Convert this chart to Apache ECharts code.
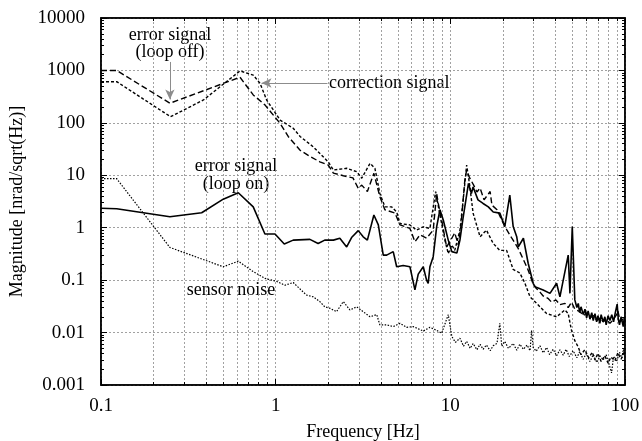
<!DOCTYPE html>
<html>
<head>
<meta charset="utf-8">
<script src="https://cdn.jsdelivr.net/npm/echarts@6/dist/echarts.min.js"></script>
<style>
  html, body { margin: 0; padding: 0; background: #fff; }
  #main { width: 642px; height: 441px; }
</style>
</head>
<body>
<div id="main"></div>
<script>
// tick labels
var xTickLabels = ['0.1', '1', '10', '100'];
var yTickLabels = ['0.001', '0.01', '0.1', '1', '10', '100', '1000', '10000'];

// error signal (loop off) : [Hz, nrad/sqrt(Hz)]
var loopOff = [
  [0.1,1000],[0.123,1000],[0.248,237],[0.625,742],[0.744,341],[0.868,220],[1.06,98],[1.18,55],
  [1.38,30],[1.57,23],[1.79,18],[2.0,15.7],[2.14,11],[2.44,9.8],[2.77,8.9],[2.97,5.65],[3.11,6.5],
  [3.35,4.9],[3.65,10.9],[3.95,3.9],[4.22,2.2],[4.82,1.9],[5.15,1.13],[5.87,0.97],[6.27,0.54],
  [6.7,0.73],[7.31,0.63],[7.98,0.9],[8.35,4.5],[8.53,2.9],[8.92,1.4],[9.52,0.43],[10.2,0.63],
  [10.6,0.8],[11.1,0.47],[11.5,1.1],[12.1,8],[12.4,12.6],[12.9,8.9],[13.6,6.5],[14.2,4.8],
  [14.8,5.7],[15.6,3.4],[16.9,4.9],[17.3,2.7],[18.5,2.2],[19.7,1.4],[21.1,0.9],[22.5,0.63],
  [24.4,0.41],[26.0,0.26],[27.8,0.16],[29.7,0.087],[31,0.07],[32.6,0.059],[34,0.05],[36.2,0.045],
  [38,0.038],[40.2,0.042],[42.4,0.034],[45.3,0.036],[47.3,0.03],[49.4,0.038],[51.6,0.028],
  [55.2,0.025],[58,0.021],[60.3,0.024],[63,0.019],[66,0.021],[69,0.017],[71.8,0.019],[75,0.016],
  [78,0.018],[82,0.015],[86,0.018],[89.5,0.022],[91,0.026],[94,0.016],[97,0.018],[100,0.015]
];

// correction signal
var correction = [
  [0.1,610],[0.123,610],[0.25,131],[0.386,273],[0.625,980],[0.744,815],[0.813,570],[0.888,273],
  [1.06,113],[1.26,79],[1.38,55],[1.64,35],[2.0,18],[2.14,12.6],[2.55,13.6],[2.91,11.7],[3.11,8.8],
  [3.47,16.9],[3.7,13.6],[3.95,4.5],[4.22,2.5],[4.61,2.5],[4.93,2.0],[5.15,1.2],[5.87,1.13],
  [6.41,0.9],[7.0,1.04],[7.64,0.97],[8.24,4.9],[8.72,1.75],[9.31,0.58],[9.73,0.32],[10.2,0.47],
  [10.6,0.37],[11.35,0.9],[11.85,3.4],[12.4,15.7],[12.9,6.5],[13.5,1.9],[14.8,0.67],[16.1,0.9],
  [17.6,0.5],[19.2,0.37],[21.0,0.37],[22.9,0.16],[25.0,0.137],[26.7,0.088],[28.6,0.048],
  [31.2,0.036],[35.6,0.023],[40.6,0.02],[45.3,0.027],[47.3,0.023],[49.4,0.011],[51.6,0.007],
  [54,0.0053],[56,0.0038],[58.9,0.0047],[62,0.0033],[65,0.0042],[67.3,0.003],[70,0.004],
  [73,0.0028],[76.7,0.0036],[80,0.0026],[83,0.0034],[87.5,0.0029],[91,0.0041],[95,0.0031],[100,0.0046]
];

// error signal (loop on)
var loopOn = [
  [0.1,2.35],[0.123,2.3],[0.248,1.62],[0.377,1.93],[0.501,3.5],[0.611,4.65],[0.744,2.5],[0.868,0.76],
  [0.991,0.76],[1.12,0.49],[1.26,0.58],[1.57,0.6],[1.75,0.5],[1.91,0.58],[2.14,0.58],[2.33,0.63],
  [2.55,0.43],[2.72,0.65],[2.97,0.88],[3.17,0.67],[3.35,0.58],[3.65,1.75],[3.87,1.13],[4.13,0.3],
  [4.32,0.3],[4.71,0.35],[4.93,0.18],[5.37,0.19],[5.87,0.18],[6.27,0.065],[6.55,0.13],[7.0,0.18],
  [7.31,0.1],[7.47,0.087],[7.64,0.18],[7.98,0.28],[8.35,1.04],[8.72,2.2],[9.11,1.4],[9.73,0.58],
  [10.2,0.35],[10.9,0.33],[11.35,0.58],[11.85,1.6],[12.7,7.0],[13.2,4.5],[13.5,6.0],[14.4,3.4],
  [15.4,2.9],[16.5,2.5],[17.6,2.0],[19.2,1.9],[20.5,1.05],[21.9,4.2],[22.9,1.05],[24.0,0.67],
  [24.5,0.43],[26.2,0.63],[27.9,0.21],[29.8,0.087],[30.5,0.075],[34.0,0.065],[37.2,0.056],
  [40.6,0.087],[42.4,0.048],[47.3,0.3],[48.4,0.056],[49.9,1.05],[51.6,0.042],[53,0.03],[54,0.036],
  [55,0.024],[56,0.031],[57.7,0.022],[59,0.028],[60.3,0.019],[61.5,0.026],[63,0.018],[64.5,0.024],
  [65.8,0.017],[67.3,0.023],[68.8,0.016],[70,0.021],[71.8,0.015],[73,0.022],[75,0.016],[76.7,0.02],
  [78,0.014],[80,0.021],[82,0.017],[84,0.022],[86,0.016],[88,0.024],[90.2,0.035],[91.5,0.018],
  [93,0.014],[95,0.02],[97.7,0.013],[99,0.019],[100,0.016]
];

// sensor noise
var sensorNoise = [
  [0.1,8.6],[0.123,8.6],[0.248,0.42],[0.501,0.18],[0.611,0.23],[0.744,0.145],[0.868,0.108],
  [1.01,0.095],[1.13,0.08],[1.26,0.09],[1.50,0.052],[1.64,0.048],[1.79,0.039],[1.91,0.031],
  [2.05,0.029],[2.23,0.025],[2.44,0.039],[2.66,0.027],[2.91,0.031],[3.17,0.025],[3.47,0.02],
  [3.79,0.022],[3.95,0.014],[4.32,0.014],[4.71,0.013],[5.15,0.015],[5.62,0.0126],[6.13,0.013],
  [7.0,0.0107],[7.64,0.0126],[8.35,0.011],[8.92,0.0097],[9.73,0.022],[10.2,0.0084],[10.7,0.0065],
  [11.35,0.0078],[11.9,0.0055],[12.4,0.0068],[13,0.005],[13.5,0.0062],[14.2,0.0047],[14.8,0.006],
  [15.4,0.0048],[16.1,0.0058],[16.9,0.0045],[17.6,0.0056],[18.5,0.0062],[19.2,0.015],[19.7,0.0055],
  [20.5,0.0068],[21.5,0.005],[22.9,0.0062],[24,0.0046],[25,0.006],[26.2,0.0048],[27.5,0.0058],
  [28.6,0.0045],[29.2,0.011],[29.8,0.0052],[31,0.0044],[32.6,0.0056],[34,0.0041],[35.6,0.0052],
  [37,0.0038],[38.8,0.0048],[40.6,0.0036],[42.4,0.0047],[44.3,0.0037],[46,0.0048],[48,0.0035],
  [50.5,0.0045],[53,0.0033],[55,0.0043],[57.7,0.0031],[60,0.004],[63,0.0028],[65.8,0.0038],
  [69,0.0027],[72,0.0036],[75,0.003],[78,0.0038],[81,0.0025],[83.8,0.0017],[86,0.0035],
  [89.5,0.0028],[93,0.0042],[96,0.0033],[98,0.0048],[100,0.0038]
];

var FONT = 'Liberation Serif';
var GRID_LINE = { color: '#8a8a8a', width: 0.8, type: [2, 2] };
var TEXT_FONT = '18px "Liberation Serif"';

var chart = echarts.init(document.getElementById('main'));

function logLabel(list, offset) {
  return function (v) {
    return list[Math.round(Math.log10(v)) + offset];
  };
}

function curve(name, data, width, dash) {
  return {
    name: name,
    type: 'line',
    data: data,
    symbol: 'none',
    silent: true,
    lineStyle: { color: '#000', width: width, type: dash }
  };
}

function note(text, x, y, align) {
  return {
    type: 'text',
    silent: true,
    style: {
      text: text, x: x, y: y, font: TEXT_FONT, fill: '#000',
      align: align, verticalAlign: 'middle', textAlign: align, textVerticalAlign: 'middle'
    }
  };
}

var sensor = curve('sensor noise', sensorNoise, 1.2, [1.5, 1.5]);
// grey annotation arrows
sensor.markLine = {
  silent: true,
  symbolSize: [7, 10],
  label: { show: false },
  lineStyle: { color: '#8c8c8c', width: 1, type: 'solid' },
  data: [
    [{ coord: [0.248, 1450], symbol: 'none' }, { coord: [0.248, 280], symbol: 'arrow' }],
    [{ coord: [1.98, 575], symbol: 'none' }, { coord: [0.83, 575], symbol: 'arrow' }]
  ]
};

var axisCommon = {
  type: 'log',
  logBase: 10,
  axisLine: { show: true, lineStyle: { color: '#000', width: 1.5 } },
  axisTick: { show: true, inside: true, length: 6, lineStyle: { color: '#000' } },
  minorTick: { show: true, splitNumber: 9, length: 3, lineStyle: { color: '#000' } }
};

chart.setOption({
  animation: false,
  backgroundColor: '#fff',
  grid: {
    left: 101, top: 18, right: 17, bottom: 56,
    outerBoundsMode: 'none',
    show: true, borderColor: '#000', borderWidth: 1.5
  },
  xAxis: [
    Object.assign({}, axisCommon, {
      min: 0.1, max: 100,
      name: 'Frequency [Hz]',
      nameLocation: 'middle',
      nameGap: 38,
      nameTextStyle: { fontFamily: FONT, fontSize: 18, color: '#000' },
      splitLine: { show: true, lineStyle: GRID_LINE },
      minorSplitLine: { show: true, lineStyle: GRID_LINE },
      axisLabel: { fontFamily: FONT, fontSize: 19, color: '#000', margin: 12, formatter: logLabel(xTickLabels, 1) }
    }),
    Object.assign({}, axisCommon, {
      min: 0.1, max: 100, position: 'top',
      axisLabel: { show: false }, splitLine: { show: false }
    })
  ],
  yAxis: [
    Object.assign({}, axisCommon, {
      min: 0.001, max: 10000,
      name: 'Magnitude [nrad/sqrt(Hz)]',
      nameLocation: 'middle',
      nameGap: 70,
      nameTextStyle: { fontFamily: FONT, fontSize: 18, color: '#000' },
      splitLine: { show: true, lineStyle: GRID_LINE },
      axisLabel: { fontFamily: FONT, fontSize: 19, color: '#000', margin: 16, formatter: logLabel(yTickLabels, 3) }
    }),
    Object.assign({}, axisCommon, {
      min: 0.001, max: 10000, position: 'right',
      axisLabel: { show: false }, splitLine: { show: false }
    })
  ],
  series: [
    sensor,
    curve('correction signal', correction, 1.4, [3, 2]),
    curve('error signal (loop off)', loopOff, 1.4, [6, 3]),
    curve('error signal (loop on)', loopOn, 1.6, 'solid')
  ],
  graphic: [
    note('error signal', 170, 35, 'center'),
    note('(loop off)', 170, 52, 'center'),
    note('correction signal', 329, 83, 'left'),
    note('error signal', 236, 166, 'center'),
    note('(loop on)', 236, 184, 'center'),
    note('sensor noise', 231, 290, 'center')
  ]
});
</script>
</body>
</html>
